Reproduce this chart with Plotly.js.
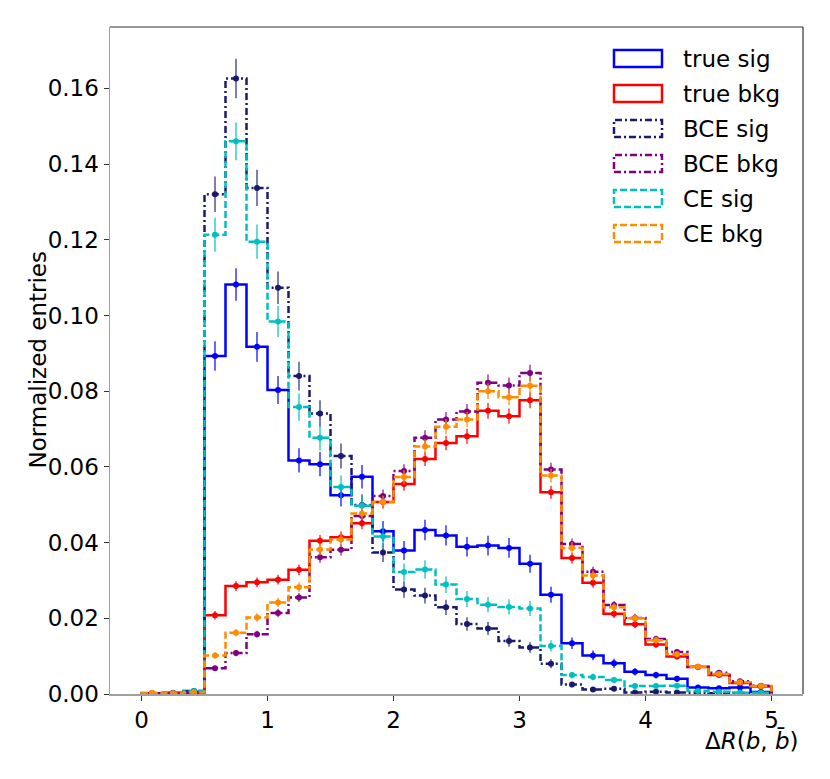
<!DOCTYPE html>
<html>
<head>
<meta charset="utf-8">
<script src="https://cdn.plot.ly/plotly-3.0.1.min.js"></script>
<style>html,body{margin:0;padding:0;background:#fff;}#chart{width:830px;height:779px;}</style>
</head>
<body>
<div id="chart"></div>
<script>
// Histogram binning: 30 bins from 0 to 5
const binLo = 0, binHi = 5, nBins = 30;

const seriesNames = ["true sig", "true bkg", "BCE sig", "BCE bkg", "CE sig", "CE bkg"];

const trueSig = [0.0002,0.0003,0.0006,0.0893,0.1082,0.0917,0.0803,0.0617,0.0607,0.0525,
                 0.0574,0.0430,0.0379,0.0433,0.0419,0.0389,0.0392,0.0386,0.0344,0.0262,
                 0.0134,0.0102,0.0081,0.0059,0.0050,0.0040,0.0017,0.0015,0.0017,0.0005];
const trueSigErr = [0.0002,0.0002,0.0003,0.0039,0.0043,0.0039,0.0037,0.0032,0.0032,0.0030,
                    0.0031,0.0027,0.0025,0.0027,0.0027,0.0026,0.0026,0.0026,0.0024,0.0021,
                    0.0015,0.0013,0.0012,0.0010,0.0009,0.0008,0.0005,0.0005,0.0005,0.0003];

const trueBkg = [0.0001,0.0001,0.0003,0.0208,0.0285,0.0295,0.0302,0.0328,0.0405,0.0414,
                 0.0451,0.0507,0.0555,0.0621,0.0663,0.0681,0.0748,0.0734,0.0776,0.0533,
                 0.0359,0.0294,0.0212,0.0184,0.0131,0.0099,0.0071,0.0050,0.0029,0.0020];
const trueBkgErr = [0.0001,0.0001,0.0001,0.0011,0.0013,0.0013,0.0013,0.0014,0.0015,0.0015,
                    0.0016,0.0017,0.0018,0.0019,0.0019,0.0020,0.0021,0.0020,0.0021,0.0017,
                    0.0014,0.0013,0.0011,0.0010,0.0009,0.0007,0.0006,0.0005,0.0004,0.0003];

const bceSig = [0.0001,0.0002,0.0008,0.1320,0.1626,0.1337,0.1073,0.0840,0.0741,0.0629,
                0.0499,0.0374,0.0276,0.0260,0.0229,0.0185,0.0173,0.0140,0.0123,0.0080,
                0.0025,0.0012,0.0014,0.0004,0.0006,0.0004,0.0003,0.0002,0.0002,0.0001];
const bceSigErr = [0.0001,0.0002,0.0004,0.0047,0.0052,0.0048,0.0043,0.0038,0.0035,0.0033,
                   0.0029,0.0025,0.0022,0.0021,0.0020,0.0018,0.0017,0.0015,0.0014,0.0012,
                   0.0007,0.0005,0.0005,0.0003,0.0003,0.0003,0.0002,0.0002,0.0002,0.0001];

const bceBkg = [0.0001,0.0001,0.0004,0.0068,0.0108,0.0158,0.0214,0.0255,0.0361,0.0381,
                0.0470,0.0523,0.0589,0.0677,0.0725,0.0746,0.0822,0.0815,0.0848,0.0593,
                0.0396,0.0323,0.0235,0.0201,0.0145,0.0111,0.0072,0.0056,0.0034,0.0022];
const bceBkgErr = [0.0001,0.0001,0.0002,0.0006,0.0008,0.0009,0.0011,0.0012,0.0014,0.0015,
                   0.0016,0.0017,0.0018,0.0020,0.0020,0.0020,0.0022,0.0021,0.0022,0.0018,
                   0.0015,0.0013,0.0011,0.0011,0.0009,0.0008,0.0006,0.0006,0.0004,0.0004];

const ceSig = [0.0001,0.0002,0.0008,0.1213,0.1460,0.1195,0.0984,0.0758,0.0677,0.0547,
               0.0497,0.0416,0.0322,0.0329,0.0289,0.0251,0.0236,0.0230,0.0226,0.0127,
               0.0050,0.0045,0.0037,0.0021,0.0021,0.0022,0.0008,0.0006,0.0004,0.0003];
const ceSigErr = [0.0001,0.0002,0.0004,0.0045,0.0050,0.0045,0.0041,0.0036,0.0034,0.0030,
                  0.0029,0.0027,0.0023,0.0024,0.0022,0.0021,0.0020,0.0020,0.0020,0.0015,
                  0.0009,0.0009,0.0008,0.0006,0.0006,0.0006,0.0004,0.0003,0.0003,0.0002];

const ceBkg = [0.0003,0.0002,0.0004,0.0102,0.0162,0.0202,0.0242,0.0282,0.0382,0.0408,
               0.0477,0.0507,0.0573,0.0654,0.0706,0.0725,0.0800,0.0784,0.0814,0.0577,
               0.0386,0.0313,0.0229,0.0200,0.0142,0.0105,0.0072,0.0053,0.0031,0.0021];
const ceBkgErr = [0.0001,0.0001,0.0002,0.0008,0.0010,0.0011,0.0012,0.0013,0.0015,0.0015,
                  0.0016,0.0017,0.0018,0.0019,0.0020,0.0020,0.0021,0.0021,0.0021,0.0018,
                  0.0015,0.0013,0.0011,0.0011,0.0009,0.0008,0.0006,0.0005,0.0004,0.0003];

const xTickVals = [0, 1, 2, 3, 4, 5];
const yTickVals = [0, 0.02, 0.04, 0.06, 0.08, 0.10, 0.12, 0.14, 0.16];

// styles
const styles = [
  {color: "#0000ff", dash: "solid",            err: "rgba(0,0,255,0.75)"},
  {color: "#ff0000", dash: "solid",            err: "rgba(255,0,0,0.75)"},
  {color: "#191970", dash: "7px,3px,2px,3px",  err: "rgba(25,25,112,0.7)"},
  {color: "#800080", dash: "7px,3px,2px,3px",  err: "rgba(128,0,128,0.7)"},
  {color: "#00bfbf", dash: "7px,3px",          err: "rgba(0,191,191,0.75)"},
  {color: "#ff8c00", dash: "7px,3px",          err: "rgba(255,140,0,0.75)"}
];

const values = [trueSig, trueBkg, bceSig, bceBkg, ceSig, ceBkg];
const errors = [trueSigErr, trueBkgErr, bceSigErr, bceBkgErr, ceSigErr, ceBkgErr];

const w = (binHi - binLo) / nBins;
const edges = [];
for (let i = 0; i <= nBins; i++) edges.push(binLo + i * w);
const centers = [];
for (let i = 0; i < nBins; i++) centers.push(binLo + (i + 0.5) * w);

function stepPath(v) {
  const xs = [edges[0]], ys = [0];
  for (let i = 0; i < v.length; i++) {
    xs.push(edges[i], edges[i + 1]);
    ys.push(v[i], v[i]);
  }
  xs.push(edges[v.length]); ys.push(0);
  return {xs, ys};
}

const traces = [];
values.forEach((v, k) => {
  const p = stepPath(v);
  traces.push({
    type: "scatter", mode: "lines", x: p.xs, y: p.ys,
    line: {color: styles[k].color, width: 2.5, dash: styles[k].dash},
    hoverinfo: "skip", showlegend: false
  });
  traces.push({
    type: "scatter", mode: "markers", x: centers, y: v,
    marker: {color: styles[k].color, size: 6},
    error_y: {type: "data", array: errors[k], visible: true, color: styles[k].err, thickness: 1.6, width: 0},
    name: seriesNames[k], showlegend: false
  });
});

// plot area in px
const L = 110, R = 803, T = 27, B = 694;
const px = x => (x - L) / (R - L);
const py = y => (B - y) / (B - T);

const shapes = [
  {type: "line", xref: "paper", yref: "paper", x0: 0, x1: 1, y0: 1, y1: 1, line: {color: "#333333", width: 1.2}},
  {type: "line", xref: "paper", yref: "paper", x0: 1, x1: 1, y0: 0, y1: 1, line: {color: "#333333", width: 1.2}}
];
const annotations = [];
seriesNames.forEach((name, k) => {
  const top = 50 + 35 * k;
  shapes.push({
    type: "rect", xref: "paper", yref: "paper",
    x0: px(614), x1: px(662), y0: py(top + 17), y1: py(top),
    line: {color: styles[k].color, width: 2.5, dash: styles[k].dash},
    fillcolor: "rgba(0,0,0,0)"
  });
  annotations.push({
    xref: "paper", yref: "paper", x: px(681), y: py(top + 9),
    xanchor: "left", yanchor: "middle", text: name, showarrow: false,
    font: {family: "DejaVu Sans", size: 23, color: "#000"}
  });
});
annotations.push({
  xref: "paper", yref: "paper", x: px(37), y: 0.5, xanchor: "center", yanchor: "middle",
  textangle: -90, text: "Normalized entries", showarrow: false,
  font: {family: "DejaVu Sans", size: 23, color: "#000"}
});
annotations.push({
  xref: "paper", yref: "paper", x: px(801), y: py(741), xanchor: "right", yanchor: "middle",
  text: "Δ<i>R</i>(<i>b</i>, <i>b̄</i>)", showarrow: false,
  font: {family: "DejaVu Sans", size: 23, color: "#000"}
});

const layout = {
  width: 830, height: 779,
  margin: {l: L, r: 830 - R, t: T, b: 779 - B, pad: 0},
  paper_bgcolor: "#fff", plot_bgcolor: "#fff",
  font: {family: "DejaVu Sans", size: 23, color: "#000"},
  xaxis: {
    range: [-0.25, 5.25], tickvals: xTickVals, ticktext: xTickVals.map(String),
    ticks: "outside", ticklen: 5, tickwidth: 1, tickcolor: "#333",
    showline: true, linecolor: "#a0a0a0", linewidth: 1.5, mirror: false,
    showgrid: false, zeroline: false, tickfont: {size: 23}
  },
  yaxis: {
    range: [0, 0.1762], tickvals: yTickVals, tickformat: ".2f",
    ticks: "outside", ticklen: 5, tickwidth: 1, tickcolor: "#333",
    showline: true, linecolor: "#a0a0a0", linewidth: 1.5, mirror: false,
    showgrid: false, zeroline: false, tickfont: {size: 23}
  },
  shapes: shapes,
  annotations: annotations,
  showlegend: false
};

Plotly.newPlot("chart", traces, layout, {displayModeBar: false, staticPlot: true});
</script>
</body>
</html>
